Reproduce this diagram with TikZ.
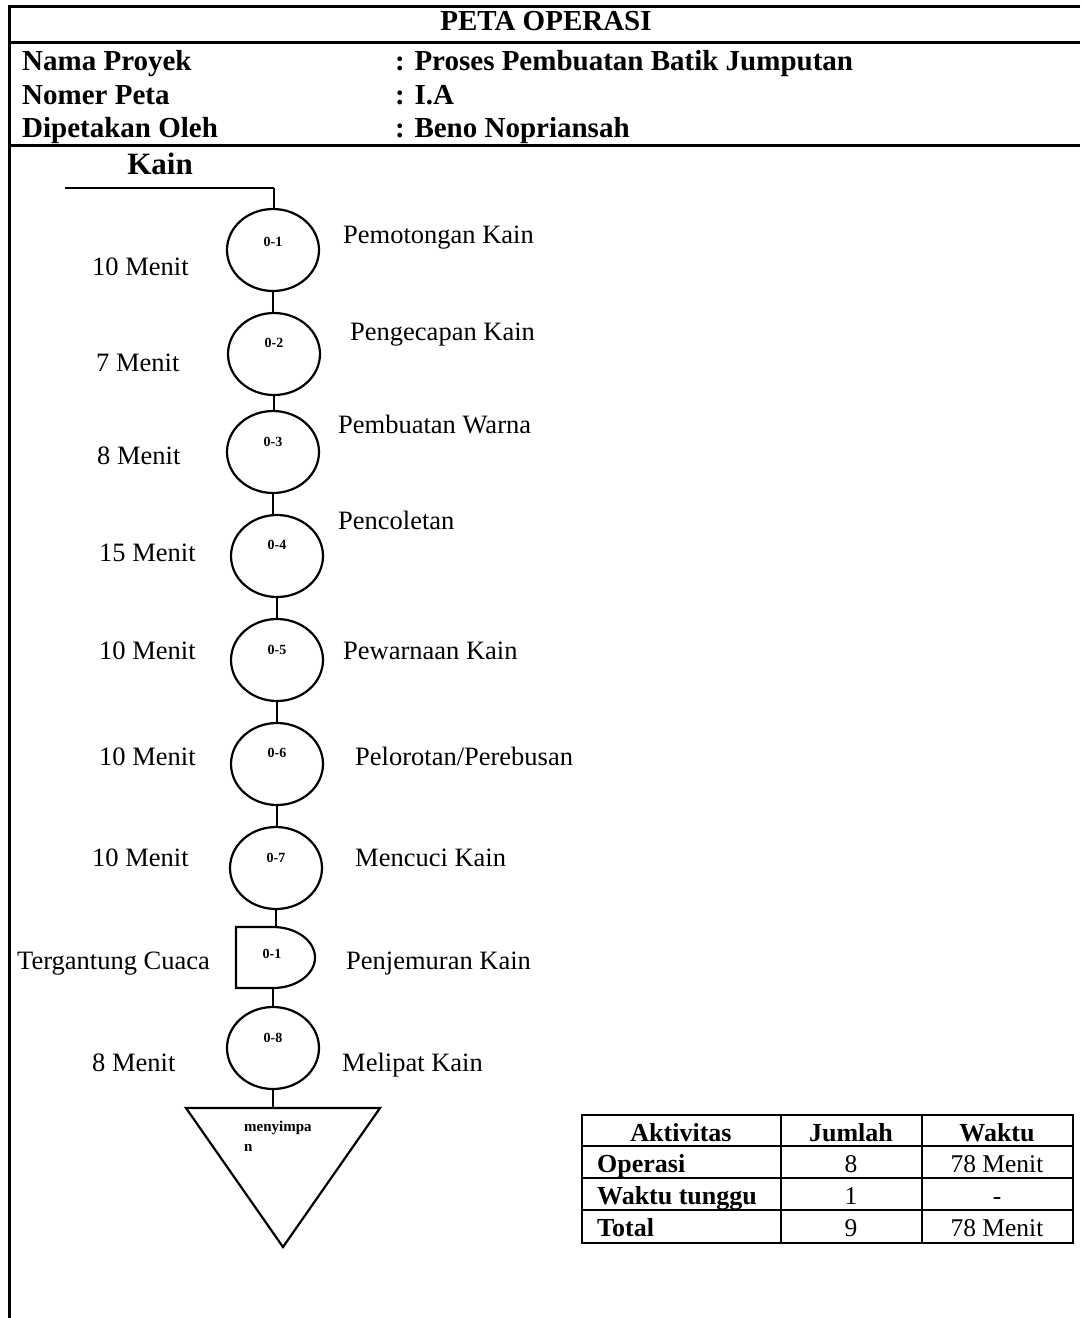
\documentclass[tikz,border=0pt]{standalone}
\usepackage{fontspec}
\setmainfont{Liberation Serif}
\usetikzlibrary{shapes.geometric}

\begin{document}
\begin{tikzpicture}[x=1pt,y=-1pt,
  frame/.style={line width=3pt},
  link/.style={line width=2.2pt},
  opcirc/.style={ellipse,draw,line width=2.2pt,minimum width=92pt,minimum height=82pt,inner sep=0pt},
  tag/.style={font=\fontsize{14}{16}\selectfont\bfseries,inner sep=0pt},
  lbl/.style={font=\fontsize{26.5}{30}\selectfont,anchor=base west,inner sep=0pt},
  head/.style={font=\fontsize{29}{33}\selectfont\bfseries,anchor=base west,inner sep=0pt},
  cell/.style={font=\fontsize{25.5}{29}\selectfont,inner sep=0pt,anchor=base},
  cellb/.style={font=\fontsize{26}{29}\selectfont\bfseries,inner sep=0pt,anchor=base},
  tline/.style={line width=1.8pt},
  touter/.style={line width=2.4pt}]

\useasboundingbox (0,0) rectangle (1080,1318);
\fill[white] (0,0) rectangle (1080,1318);

% outer frame and header rules
\draw[frame] (1080,6) -- (9,6) -- (9,1318);
\draw[frame] (9,42) -- (1080,42);
\draw[frame] (9,145) -- (1080,145);

% header
\node[font=\fontsize{29}{33}\selectfont\bfseries,anchor=base,inner sep=0pt] (title) at (546,30) {PETA OPERASI};
\node[head] (h1) at (22,70) {Nama Proyek};
\node[head] (h2) at (22,104) {Nomer Peta};
\node[head] (h3) at (22,137) {Dipetakan Oleh};
\node[head] (v1) at (395,70) {: Proses Pembuatan Batik Jumputan};
\node[head] (v2) at (395,104) {: I.A};
\node[head] (v3) at (395,137) {: Beno Nopriansah};

% raw material
\node[font=\fontsize{31}{35}\selectfont\bfseries,anchor=base,inner sep=0pt] (kain) at (160,174) {Kain};
\coordinate (kl) at (65,188);
\coordinate (kr) at (274,188);
\draw[link] (kl) -- (kr);

% operations
\node[opcirc] (o1) at (273,250) {};
\node[opcirc] (o2) at (274,354) {};
\node[opcirc] (o3) at (273,452) {};
\node[opcirc] (o4) at (277,556) {};
\node[opcirc] (o5) at (277,660) {};
\node[opcirc] (o6) at (277,764) {};
\node[opcirc] (o7) at (276,868) {};
\node[opcirc] (o8) at (273,1048) {};

\node[tag] at (273,242) {0-1};
\node[tag] at (274,343) {0-2};
\node[tag] at (273,442) {0-3};
\node[tag] at (277,545) {0-4};
\node[tag] at (277,650) {0-5};
\node[tag] at (277,753) {0-6};
\node[tag] at (276,858) {0-7};
\node[tag] at (273,1038) {0-8};

% delay (drying)
\coordinate (dtop) at (273,927);
\coordinate (dbot) at (273,988);
\draw[line width=2.2pt] (236,927) -- (dtop)
  .. controls (296.2,927) and (315,940.7) .. (315,957.5)
  .. controls (315,974.3) and (296.2,988) .. (dbot) -- (236,988) -- cycle;
\node[tag] at (272,954) {0-1};

% storage
\coordinate (ttop) at (272,1108);
\draw[line width=2.2pt] (186,1108) -- (380,1108) -- (283,1247) -- cycle;
\node[font=\fontsize{15}{20}\selectfont\bfseries,anchor=north west,inner sep=0pt,align=left] (store) at (244,1121) {menyimpa\\n};

% connectors
\draw[link] (kr) -- (kr |- o1.north);
\draw[link] (o1.south) -- (o1.south |- o2.north);
\draw[link] (o2.south) -- (o2.south |- o3.north);
\draw[link] (o3.south) -- (o3.south |- o4.north);
\draw[link] (o4.south) -- (o4.south |- o5.north);
\draw[link] (o5.south) -- (o5.south |- o6.north);
\draw[link] (o6.south) -- (o6.south |- o7.north);
\draw[link] (o7.south) -- (o7.south |- dtop);
\draw[link] (dbot) -- (dbot |- o8.north);
\draw[link] (o8.south) -- (o8.south |- ttop);

% times
\node[lbl] at (92,275) {10 Menit};
\node[lbl] at (96,371) {7 Menit};
\node[lbl] at (97,464) {8 Menit};
\node[lbl] at (99,561) {15 Menit};
\node[lbl] at (99,659) {10 Menit};
\node[lbl] at (99,765) {10 Menit};
\node[lbl] at (92,866) {10 Menit};
\node[lbl] at (17,969) {Tergantung Cuaca};
\node[lbl] at (92,1071) {8 Menit};

% activities
\node[lbl] at (343,243) {Pemotongan Kain};
\node[lbl] at (350,340) {Pengecapan Kain};
\node[lbl] at (338,433) {Pembuatan Warna};
\node[lbl] at (338,529) {Pencoletan};
\node[lbl] at (343,659) {Pewarnaan Kain};
\node[lbl] at (355,765) {Pelorotan/Perebusan};
\node[lbl] at (355,866) {Mencuci Kain};
\node[lbl] at (346,969) {Penjemuran Kain};
\node[lbl] at (342,1071) {Melipat Kain};

% summary table
\draw[tline] (582,1146) -- (1073,1146);
\draw[tline] (582,1178) -- (1073,1178);
\draw[tline] (582,1210) -- (1073,1210);
\draw[tline] (781,1115) -- (781,1243);
\draw[tline] (922,1115) -- (922,1243);
\draw[touter] (582,1115) rectangle (1073,1243);

\node[cellb] at (681,1141) {Aktivitas};
\node[cellb] at (851,1141) {Jumlah};
\node[cellb] at (997,1141) {Waktu};
\node[cellb,anchor=base west] at (597,1172) {Operasi};
\node[cell] at (851,1172) {8};
\node[cell] at (997,1172) {78 Menit};
\node[cellb,anchor=base west] at (597,1204) {Waktu tunggu};
\node[cell] at (851,1204) {1};
\node[cell] at (997,1204) {-};
\node[cellb,anchor=base west] at (597,1236) {Total};
\node[cell] at (851,1236) {9};
\node[cell] at (997,1236) {78 Menit};
\end{tikzpicture}
\end{document}
